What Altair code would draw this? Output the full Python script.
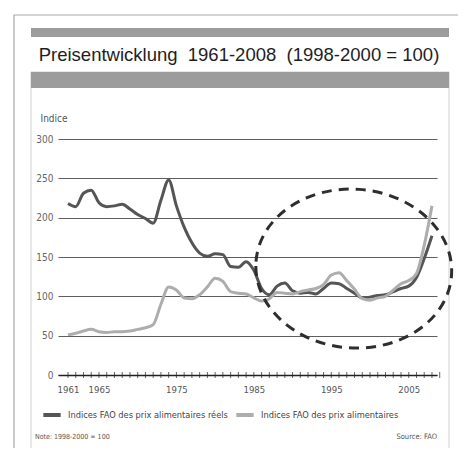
import altair as alt
import pandas as pd

YEARS = list(range(1961, 2009))
REAL = [218, 214, 231, 235, 219, 214, 215, 217, 211, 204, 199, 193, 222, 248, 215, 188,
        168, 155, 151, 154, 153, 138, 137, 144, 133, 110, 102, 113, 117, 107, 104, 105,
        103, 110, 117, 116, 110, 104, 98, 99, 101, 102, 106, 110, 113, 124, 148, 177]
NOMINAL = [51, 53, 56, 58, 55, 54, 55, 55, 56, 58, 60, 64, 90, 112, 108, 98,
           97, 102, 112, 123, 119, 106, 104, 103, 98, 94, 97, 105, 104, 103, 106, 108,
           110, 115, 127, 130, 120, 109, 97, 95, 98, 100, 108, 116, 120, 129, 165, 215]
SERIES = ["Indices FAO des prix alimentaires réels", "Indices FAO des prix alimentaires"]
COLORS = ["#555555", "#adadad"]
TICK_YEARS = [1961, 1965, 1975, 1985, 1995, 2005]
Y_TICKS = [0, 50, 100, 150, 200, 250, 300]
TITLE = "Preisentwicklung\u00a0 1961-2008\u00a0 (1998-2000 = 100)"
Y_TITLE = "Indice"
NOTE = "Note: 1998-2000 = 100"
SOURCE = "Source: FAO"
# annotation ellipse centre (year, index)
ELLIPSE = {"year": [1997.9], "value": [135.3]}

NARROW = "Liberation Sans Narrow, DejaVu Sans Condensed, Arial Narrow, sans-serif"

rows = []
for name, vals in zip(SERIES, [REAL, NOMINAL]):
    for yr, v in zip(YEARS, vals):
        rows.append({"year": yr, "value": v, "series": name})
df = pd.DataFrame(rows)

W, H = 379, 236
xscale = alt.Scale(domain=[1959.71, 2008.65], nice=False, zero=False)
yscale = alt.Scale(domain=[0, 300], nice=False)

X_AXIS = alt.Axis(values=TICK_YEARS, format="d", grid=False, ticks=False,
                  domain=True, domainColor="#222", domainWidth=1.6,
                  labelFont=NARROW, labelFontSize=9.5, labelColor="#555",
                  labelPadding=9, title=None)
Y_AXIS = alt.Axis(values=Y_TICKS, grid=True, gridColor="#5e5e5e", gridWidth=1.2,
                  ticks=False, domain=False, labelFont=NARROW, labelFontSize=10,
                  labelColor="#666", labelPadding=5, labelOverlap=False,
                  title=Y_TITLE, titleAngle=0, titleAlign="left",
                  titleBaseline="middle", titleX=-18, titleY=-21,
                  titleFont=NARROW, titleFontSize=10, titleFontWeight="normal",
                  titleColor="#555")

one = pd.DataFrame({"a": [0]})
frame = alt.Chart(one).mark_rect(
    fillOpacity=0, stroke="#a8a8a8", strokeWidth=1.2
).encode(x=alt.value(-44), x2=alt.value(405), y=alt.value(-124), y2=alt.value(330))

panel = alt.Chart(one).mark_rect(
    fillOpacity=0, stroke="#cfcfcf", strokeWidth=1
).encode(x=alt.value(-27), x2=alt.value(391), y=alt.value(-67), y2=alt.value(330))

bar1 = alt.Chart(one).mark_rect(fill="#9c9c9c").encode(
    x=alt.value(-27), x2=alt.value(391), y=alt.value(-111), y2=alt.value(-102))
bar2 = alt.Chart(one).mark_rect(fill="#9c9c9c").encode(
    x=alt.value(-27), x2=alt.value(391), y=alt.value(-67), y2=alt.value(-51))

title = alt.Chart(pd.DataFrame({"t": [TITLE]})).mark_text(
    font="Liberation Sans", fontSize=18.5, color="#1e1e1e", align="center", baseline="middle"
).encode(x=alt.value(181), y=alt.value(-84), text="t:N")

note = alt.Chart(pd.DataFrame({"t": [NOTE]})).mark_text(
    font=NARROW, fontSize=7, color="#555555", align="left", baseline="middle"
).encode(x=alt.value(-23), y=alt.value(298), text="t:N")
source = alt.Chart(pd.DataFrame({"t": [SOURCE]})).mark_text(
    font=NARROW, fontSize=7.5, color="#555555", align="right", baseline="middle"
).encode(x=alt.value(379), y=alt.value(298), text="t:N")

lines = alt.Chart(df).mark_line(strokeWidth=3, interpolate="monotone").encode(
    x=alt.X("year:Q", scale=xscale, axis=X_AXIS),
    y=alt.Y("value:Q", scale=yscale, axis=Y_AXIS),
    color=alt.Color("series:N", scale=alt.Scale(domain=SERIES, range=COLORS),
                    sort=SERIES,
                    legend=alt.Legend(orient="none", legendX=-17, legendY=265,
                                      direction="horizontal", title=None,
                                      symbolType="stroke", symbolStrokeWidth=4,
                                      symbolSize=300, labelFont=NARROW,
                                      labelFontSize=9.2, labelColor="#444",
                                      labelLimit=300, labelOffset=5, columnPadding=0)),
    order=alt.Order("year:Q"),
)

ticks = alt.Chart(pd.DataFrame({"year": YEARS + [2009], "value": [0] * (len(YEARS) + 1)})).mark_tick(
    orient="vertical", size=6, thickness=1, color="#222"
).encode(x=alt.X("year:Q", scale=xscale, axis=X_AXIS),
         y=alt.Y("value:Q", scale=yscale, axis=Y_AXIS))

k = 0.5523
ry = 0.81
path = (f"M -1 0 C -1 {-ry*k:.4f} {-k} {-ry} 0 {-ry} C {k} {-ry} 1 {-ry*k:.4f} 1 0 "
        f"C 1 {ry*k:.4f} {k} {ry} 0 {ry} C {-k} {ry} -1 {ry*k:.4f} -1 0 Z")
ellipse = alt.Chart(pd.DataFrame(ELLIPSE)).mark_point(
    shape=path, size=196 * 196, filled=False, stroke="#2e2e2e", strokeWidth=3,
    strokeDash=[10, 7], angle=4, opacity=1
).encode(x=alt.X("year:Q", scale=xscale, axis=X_AXIS),
         y=alt.Y("value:Q", scale=yscale, axis=Y_AXIS))

chart = alt.layer(frame, panel, bar1, bar2, title, note, source, lines, ticks, ellipse).properties(
    width=W, height=H,
    autosize=alt.AutoSizeParams(type="none"),
    padding={"left": 50, "top": 131, "right": 21, "bottom": 73},
).configure_view(stroke=None)

chart.save("out.html", embed_options={"renderer": "svg", "actions": False})
